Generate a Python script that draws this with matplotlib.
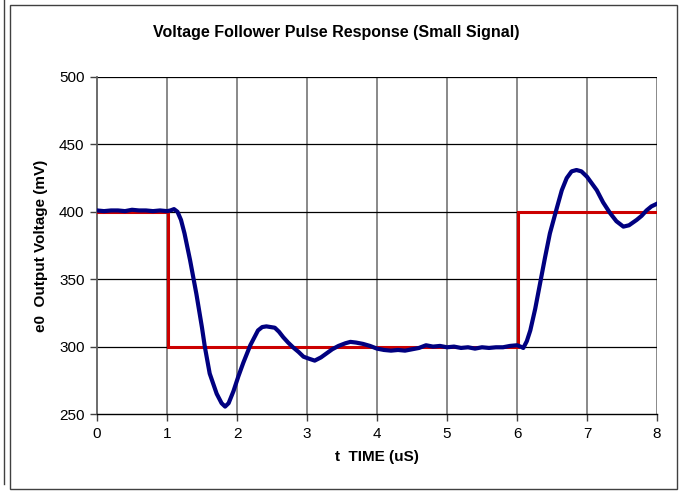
import matplotlib
matplotlib.use("Agg")
import matplotlib.pyplot as plt
from matplotlib.lines import Line2D
from matplotlib.patches import Rectangle

plt.rcParams['font.family'] = ['Liberation Sans', 'DejaVu Sans']

# Output (blue) response
t_out = [0.0, 0.1, 0.2, 0.3, 0.4, 0.5, 0.6, 0.7, 0.8, 0.9, 1.0, 1.05, 1.1, 1.15, 1.2, 1.25,
         1.33, 1.42, 1.5, 1.54, 1.61, 1.71, 1.78, 1.83, 1.88, 1.95, 2.02, 2.09, 2.19, 2.3,
         2.36, 2.42, 2.48, 2.54, 2.6, 2.66, 2.73, 2.8, 2.88, 2.95, 3.03, 3.11, 3.2, 3.28,
         3.36, 3.45, 3.55, 3.62, 3.7, 3.8, 3.9, 4.0, 4.1, 4.2, 4.3, 4.4, 4.5, 4.6, 4.7, 4.8,
         4.9, 5.0, 5.1, 5.2, 5.3, 5.4, 5.5, 5.6, 5.7, 5.8, 5.9, 6.0, 6.05, 6.09, 6.14, 6.19,
         6.26, 6.33, 6.4, 6.47, 6.57, 6.64, 6.71, 6.78, 6.85, 6.92, 7.0, 7.07, 7.14, 7.23,
         7.33, 7.42, 7.52, 7.6, 7.71, 7.78, 7.85, 7.92, 8.0]
v_out = [401, 400.5, 401, 401, 400.5, 401.5, 401, 401, 400.5, 401, 400.5, 401, 402, 400, 394, 384,
         364, 339, 314, 300, 280, 265, 258, 255.5, 258, 267, 278, 288, 301, 312,
         314.5, 315, 314.5, 314, 311, 307, 303, 299.5, 296, 292.5, 291, 289.6, 292, 295,
         298, 300.5, 302.5, 303.5, 303, 302, 300.5, 298.5, 297.5, 297, 297.5, 297, 298, 299, 301, 300,
         300.5, 299.5, 300, 299, 299.5, 298.5, 299.5, 299, 299.5, 299.5, 300.5, 301, 300, 299, 304, 312,
         328, 347, 366, 384, 403, 416, 425, 430, 431, 430, 426, 421, 416, 407,
         399, 393, 389, 390, 394, 397, 401, 404, 406]

# Input (red) pulse
t_in = [0.0, 1.01, 1.01, 6.01, 6.01, 8.0]
v_in = [400, 400, 300, 300, 400, 400]

x_ticks = [0, 1, 2, 3, 4, 5, 6, 7, 8]
y_ticks = [250, 300, 350, 400, 450, 500]

W, H = 681, 492
fig = plt.figure(figsize=(W / 100, H / 100), dpi=100)
ax = fig.add_axes([97 / W, 1 - 414 / H, (657 - 97) / W, (414 - 77) / H])

ax.set_xlim(0, 8)
ax.set_ylim(250, 500)
ax.set_xticks(x_ticks)
ax.set_yticks(y_ticks)

# gridlines
for x in x_ticks[1:]:
    ax.axvline(x, color='#808080', lw=1.3, zorder=1)
for y in y_ticks[1:]:
    ax.axhline(y, color='black', lw=0.9, zorder=1)

ax.plot(t_in, v_in, color='#CC0000', lw=2.2, zorder=3, solid_joinstyle='miter')
ax.plot(t_out, v_out, color='#000080', lw=3.0, zorder=4)

for s in ['top', 'right']:
    ax.spines[s].set_visible(False)
ax.spines['left'].set_color('#606060')
ax.spines['left'].set_linewidth(1.3)
ax.spines['bottom'].set_color('black')
ax.spines['bottom'].set_linewidth(1.0)
ax.tick_params(direction='out', length=5, width=1, labelsize=11, color='#404040', pad=4)

ax.set_xlabel('t  TIME (uS)', fontsize=11, fontweight='bold', labelpad=7)
ax.set_ylabel('e0  Output Voltage (mV)', fontsize=11, fontweight='bold', labelpad=8)

fig.text(336 / W, 1 - 32 / H, 'Voltage Follower Pulse Response (Small Signal)',
         ha='center', va='center', fontsize=11.5, fontweight='bold')

# outer chart border
fig.patches.append(Rectangle((9.5 / W, 1 - 489 / H), (677 - 9.5) / W, (489 - 4.5) / H,
                             transform=fig.transFigure, fill=False, edgecolor='#404040', lw=1.0))
fig.lines.append(Line2D([3.5 / W, 3.5 / W], [1 - 484 / H, 1.0], transform=fig.transFigure,
                        color='#404040', lw=1.0))

fig.savefig('out.png', dpi=100)
